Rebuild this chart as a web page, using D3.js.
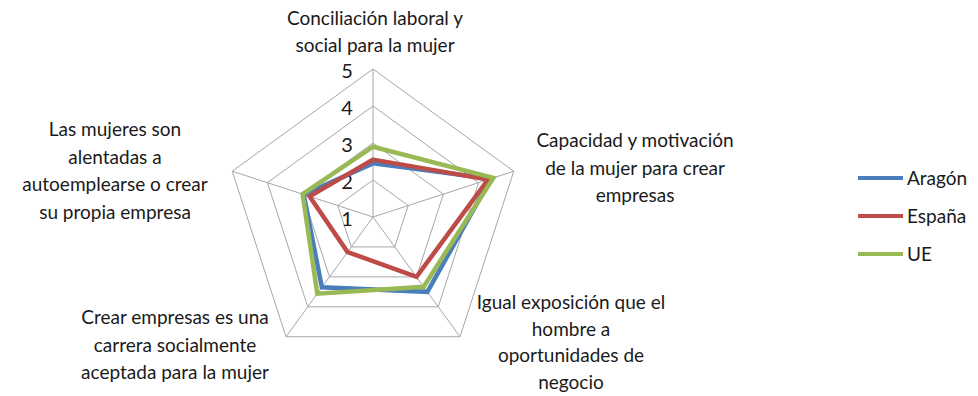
<!DOCTYPE html>
<html lang="es">
	<head>
		<meta charset="utf-8">
		<title>D3: radar chart</title>
		<script type="text/javascript" src="https://cdn.jsdelivr.net/npm/d3@7"></script>
		<style type="text/css">
			body {
				margin: 0;
				background: #fff;
			}

			.label {
				font-family: Lato, "Open Sans", sans-serif;
				font-size: 19px;
				fill: #1a1a1a;
				text-anchor: middle;
			}

			.tick {
				font-family: Lato, "Open Sans", sans-serif;
				font-size: 20px;
				fill: #1a1a1a;
				text-anchor: middle;
			}

			.grid {
				fill: none;
				stroke: #a6a6a6;
				stroke-width: 1px;
			}
		</style>
	</head>
	<body>
		<script type="text/javascript">

			//Data
			var categories = [
				["Conciliación laboral y", "social para la mujer"],
				["Capacidad y motivación", "de la mujer para crear", "empresas"],
				["Igual exposición que el", "hombre a", "oportunidades de", "negocio"],
				["Crear empresas es una", "carrera socialmente", "aceptada para la mujer"],
				["Las mujeres son", "alentadas a", "autoemplearse o crear", "su propia empresa"]
			];
			var seriesNames = ["Aragón", "España", "UE"];
			var aragon = [2.45, 4.35, 3.5, 3.35, 2.97];
			var espana = [2.55, 4.27, 3.0, 2.17, 2.8];
			var ue = [2.9, 4.42, 3.33, 3.56, 3.0];
			var ticks = [1, 2, 3, 4, 5];

			var series = [aragon, espana, ue];
			var colors = ["#4a7ebb", "#be4b48", "#98b954"];

			//Settings
			var w = 978;
			var h = 396;
			var cx = 373;
			var cy = 217;

			var r = d3.scaleLinear().domain([1, 5]).range([0, 148]);

			var angle = d3.scaleLinear()
				.domain([0, categories.length])
				.range([0, 2 * Math.PI]);

			function point(i, v) {
				var a = angle(i);
				return [Math.sin(a) * r(v), -Math.cos(a) * r(v)];
			}

			var svg = d3.select("body")
				.append("svg")
				.attr("width", w)
				.attr("height", h);

			var g = svg.append("g")
				.attr("transform", "translate(" + cx + "," + cy + ")");

			var line = d3.line().curve(d3.curveLinearClosed);

			// rings (center is the value 1)
			g.selectAll(".ring")
				.data(ticks.slice(1))
				.enter()
				.append("path")
				.attr("class", "grid")
				.attr("d", function(t) {
					return line(categories.map(function(c, i) { return point(i, t); }));
				});

			// spokes
			g.selectAll(".spoke")
				.data(categories)
				.enter()
				.append("line")
				.attr("class", "grid")
				.attr("x1", 0)
				.attr("y1", 0)
				.attr("x2", function(c, i) { return point(i, 5)[0]; })
				.attr("y2", function(c, i) { return point(i, 5)[1]; });

			// tick labels
			g.selectAll(".tick")
				.data(ticks)
				.enter()
				.append("text")
				.attr("class", "tick")
				.attr("x", -26)
				.attr("y", function(t) { return -r(t) + 9; })
				.text(function(t) { return t; });

			// series
			g.selectAll(".serie")
				.data(series)
				.enter()
				.append("path")
				.attr("d", function(s) {
					return line(s.map(function(v, i) { return point(i, v); }));
				})
				.attr("fill", "none")
				.attr("stroke", function(s, i) { return colors[i]; })
				.attr("stroke-width", 4.5)
				.attr("stroke-linejoin", "miter");

			// category labels
			var labelPos = [[375, 25], [635, 147], [571, 309], [175, 324], [115, 136]];
			var lineGap = [26.5, 27.5, 26.5, 27.5, 27.5];
			svg.selectAll(".cat")
				.data(categories)
				.enter()
				.append("text")
				.attr("class", "label")
				.attr("transform", function(c, i) {
					return "translate(" + labelPos[i][0] + "," + labelPos[i][1] + ")";
				})
				.each(function(c, i) {
					d3.select(this).selectAll("tspan")
						.data(c)
						.enter()
						.append("tspan")
						.attr("x", 0)
						.attr("y", function(d, j) { return j * lineGap[i]; })
						.text(function(d) { return d; });
				});

			// legend
			var legend = svg.selectAll(".legend")
				.data(seriesNames)
				.enter()
				.append("g")
				.attr("transform", function(d, i) {
					return "translate(858," + (178 + i * 38) + ")";
				});

			legend.append("line")
				.attr("x1", 0)
				.attr("x2", 45)
				.attr("stroke", function(d, i) { return colors[i]; })
				.attr("stroke-width", 4);

			legend.append("text")
				.attr("class", "label")
				.style("text-anchor", "start")
				.attr("x", 49)
				.attr("y", 7)
				.text(function(d) { return d; });
		</script>
	</body>
</html>
